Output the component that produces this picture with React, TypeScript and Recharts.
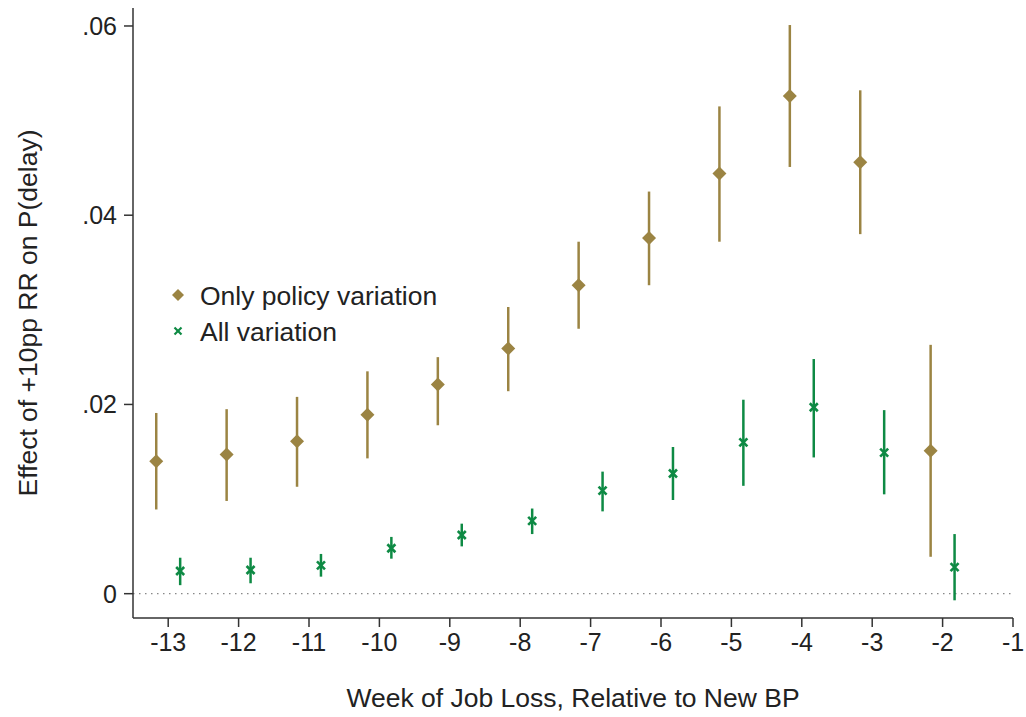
import { ScatterChart, Scatter, XAxis, YAxis, ErrorBar, ReferenceLine } from 'recharts'

// weeks of job loss relative to new benefit period
const weeks = [-13, -12, -11, -10, -9, -8, -7, -6, -5, -4, -3, -2]

// only policy variation: point estimate and 95% CI
const policyEst = [0.0140, 0.0147, 0.0161, 0.0189, 0.0221, 0.0259, 0.0326, 0.0376, 0.0444, 0.0526, 0.0456, 0.0151]
const policyLo = [0.0089, 0.0098, 0.0113, 0.0143, 0.0178, 0.0214, 0.0280, 0.0326, 0.0372, 0.0451, 0.0380, 0.0039]
const policyHi = [0.0191, 0.0195, 0.0208, 0.0235, 0.0250, 0.0303, 0.0372, 0.0425, 0.0515, 0.0601, 0.0532, 0.0263]

// all variation
const allEst = [0.0024, 0.0025, 0.0030, 0.0048, 0.0062, 0.0077, 0.0109, 0.0127, 0.0160, 0.0197, 0.0149, 0.0028]
const allLo = [0.0009, 0.0011, 0.0018, 0.0037, 0.0050, 0.0063, 0.0087, 0.0099, 0.0114, 0.0144, 0.0105, -0.0007]
const allHi = [0.0038, 0.0038, 0.0042, 0.0060, 0.0074, 0.0090, 0.0129, 0.0155, 0.0205, 0.0248, 0.0194, 0.0063]

const xTicks = [-13, -12, -11, -10, -9, -8, -7, -6, -5, -4, -3, -2, -1]
const yTicks = [0, 0.02, 0.04, 0.06]

const GOLD = '#9b8443'
const GREEN = '#0e8a44'
const TEXT = '#222'
const FONT = '"Liberation Sans", Arial, sans-serif'

// small horizontal shift so the two estimates don't overlap
const build = (est: number[], lo: number[], hi: number[], shift: number) =>
  weeks.map((w, i) => ({
    x: w + shift,
    y: est[i],
    err: [est[i] - lo[i], hi[i] - est[i]],
  }))

const policyData = build(policyEst, policyLo, policyHi, -0.17)
const allData = build(allEst, allLo, allHi, 0.17)

const fmtY = (v: number) => (v === 0 ? '0' : v.toFixed(2).replace(/^0/, ''))

const Diamond = (p: any) => {
  const { cx, cy } = p
  if (cx == null || cy == null) return null
  return <polygon points={`${cx},${cy - 7} ${cx + 7},${cy} ${cx},${cy + 7} ${cx - 7},${cy}`} fill={GOLD} />
}

const Cross = (p: any) => {
  const { cx, cy } = p
  if (cx == null || cy == null) return null
  const r = 4
  return (
    <g stroke={GREEN} strokeWidth={2.6}>
      <line x1={cx - r} y1={cy - r} x2={cx + r} y2={cy + r} />
      <line x1={cx - r} y1={cy + r} x2={cx + r} y2={cy - r} />
    </g>
  )
}

export default function App() {
  const axisStyle = { fontSize: 25, fill: TEXT, fontFamily: FONT }
  return (
    <div style={{ position: 'absolute', left: 0, top: 0, width: 1026, height: 717, background: '#fff', fontFamily: FONT }}>
      <ScatterChart width={1026} height={717} margin={{ top: 8, right: 13, left: 0, bottom: 0 }}>
        <XAxis
          type="number"
          dataKey="x"
          domain={[-13.5, -1]}
          ticks={xTicks}
          allowDataOverflow
          height={99}
          tick={axisStyle}
          tickSize={9}
          tickMargin={6}
          stroke="#333"
          strokeWidth={1.5}
          label={{ value: 'Week of Job Loss, Relative to New BP', position: 'insideBottom', offset: 10, fontSize: 26.5, fill: TEXT }}
        />
        <YAxis
          type="number"
          dataKey="y"
          domain={[-0.00257, 0.0619]}
          ticks={yTicks}
          allowDataOverflow
          width={133}
          tick={axisStyle}
          tickFormatter={fmtY}
          tickSize={9}
          tickMargin={7}
          stroke="#333"
          strokeWidth={1.5}
          label={{
            value: 'Effect of +10pp RR on P(delay)',
            angle: -90,
            position: 'insideLeft',
            offset: 28,
            fontSize: 26.5,
            fill: TEXT,
            style: { textAnchor: 'middle' },
          }}
        />
        <ReferenceLine y={0} stroke="#888" strokeWidth={1.2} strokeDasharray="1.5 4.5" />
        <Scatter data={policyData} shape={Diamond} isAnimationActive={false}>
          <ErrorBar dataKey="err" direction="y" width={0} stroke={GOLD} strokeWidth={2.5} />
        </Scatter>
        <Scatter data={allData} shape={Cross} isAnimationActive={false}>
          <ErrorBar dataKey="err" direction="y" width={0} stroke={GREEN} strokeWidth={2.5} />
        </Scatter>
      </ScatterChart>

      <svg width={1026} height={717} style={{ position: 'absolute', left: 0, top: 0, pointerEvents: 'none' }}>
        <polygon points="178,289 184,295 178,301 172,295" fill={GOLD} />
        <text x={200} y={304.5} fontSize={26.5} fill={TEXT} fontFamily={FONT}>Only policy variation</text>
        <g stroke={GREEN} strokeWidth={2.2}>
          <line x1={174.5} y1={327.5} x2={181.5} y2={334.5} />
          <line x1={174.5} y1={334.5} x2={181.5} y2={327.5} />
        </g>
        <text x={200} y={340.5} fontSize={26.5} fill={TEXT} fontFamily={FONT}>All variation</text>
      </svg>
    </div>
  )
}
